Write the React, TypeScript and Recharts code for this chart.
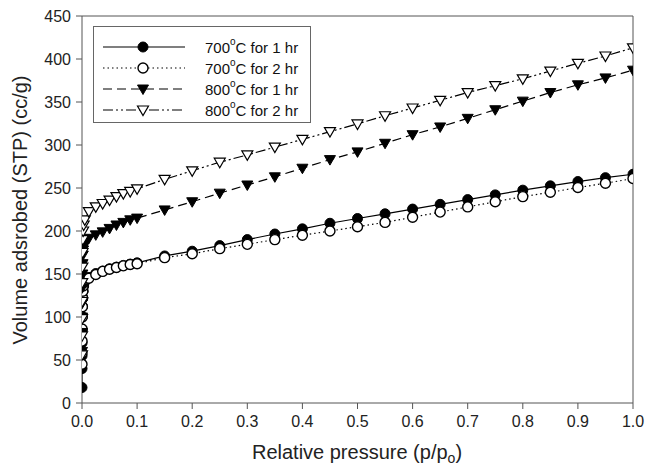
import { LineChart, Line, XAxis, YAxis, ReferenceLine, Label } from 'recharts';

// relative pressure p/p0 : micropore column, knee, linear part
const columnP = [0.00001, 0.00003, 0.0001, 0.0002, 0.0004, 0.0007, 0.001, 0.0015, 0.002, 0.003, 0.005];
const kneeP = [0.0125, 0.025, 0.0375, 0.05, 0.0625, 0.075, 0.0875, 0.1];
const linearP = [0.15, 0.2, 0.25, 0.3, 0.35, 0.4, 0.45, 0.5, 0.55, 0.6, 0.65, 0.7, 0.75, 0.8, 0.85, 0.9, 0.95, 1.0];

// volume adsorbed (cc/g)
const v700_1h = [
  18, 40, 55, 70, 85, 100, 112, 122, 130, 136, 141,
  146, 150.5, 153.5, 156, 158, 160, 161.5, 163,
  171, 176.5, 183, 190, 196.5, 202.5, 209, 214.5, 220, 225.5, 231, 236.5, 242, 247.5, 252.5, 257.5, 262, 266,
];
const v700_2h = [
  45, 58, 72, 86, 100, 112, 122, 130, 136, 140, 143,
  145, 149.5, 153, 155.5, 157.5, 159.5, 161, 162,
  169, 173.5, 179.5, 184.5, 190, 195, 200, 205, 210, 216, 222, 228, 234, 240, 245, 250.5, 255.5, 261,
];
const v800_1h = [
  60, 82, 100, 116, 134, 150, 162, 172, 178, 182, 185,
  191.5, 195.5, 199, 203, 207, 210, 213, 215,
  224.5, 234, 244, 253.5, 263, 273, 283, 292, 302, 312, 321, 331, 341, 351, 361, 370, 378, 387,
];
const v800_2h = [
  56, 78, 98, 118, 140, 158, 175, 190, 200, 207, 213,
  222.5, 228, 232, 236, 240, 243.5, 246, 249,
  260, 270, 280, 288.5, 297.5, 306.5, 315.5, 324.5, 334, 343, 352, 361, 369, 377, 386, 395, 403.5, 413,
];

const xTicks = [0, 0.1, 0.2, 0.3, 0.4, 0.5, 0.6, 0.7, 0.8, 0.9, 1.0];
const yTicks = [0, 50, 100, 150, 200, 250, 300, 350, 400, 450];

const pressure = [...columnP, ...kneeP, ...linearP];
const toRows = (vals: number[]) => pressure.map((p, i) => ({ p, v: vals[i] }));

type MarkerKind = 'filledCircle' | 'openCircle' | 'filledTri' | 'openTri';

const series: { key: string; temp: string; time: string; vals: number[]; marker: MarkerKind; dash?: string }[] = [
  { key: 'a', temp: '700', time: '1', vals: v700_1h, marker: 'filledCircle' },
  { key: 'b', temp: '700', time: '2', vals: v700_2h, marker: 'openCircle', dash: '1.5 3' },
  { key: 'c', temp: '800', time: '1', vals: v800_1h, marker: 'filledTri', dash: '9 5' },
  { key: 'd', temp: '800', time: '2', vals: v800_2h, marker: 'openTri', dash: '10 3 2 3 2 3' },
];

const FONT = 'Arial, "Liberation Sans", sans-serif';
const AXIS = '#555';

function Marker({ kind, cx, cy }: { kind: MarkerKind; cx: number; cy: number }) {
  if (kind === 'filledCircle') return <circle cx={cx} cy={cy} r={5} fill="#000" stroke="#000" strokeWidth={1} />;
  if (kind === 'openCircle') return <circle cx={cx} cy={cy} r={5} fill="#fff" stroke="#000" strokeWidth={1.4} />;
  const pts = `${cx - 5.5},${cy - 4} ${cx + 5.5},${cy - 4} ${cx},${cy + 5.5}`;
  if (kind === 'filledTri') return <polygon points={pts} fill="#000" stroke="#000" strokeWidth={1} />;
  return <polygon points={pts} fill="#fff" stroke="#000" strokeWidth={1.2} />;
}

const renderDot = (kind: MarkerKind) => (props: any) => {
  if (props.cx == null || props.cy == null) return <g key={`${kind}-${props.index}`} />;
  return (
    <g key={`${kind}-${props.index}`}>
      <Marker kind={kind} cx={props.cx} cy={props.cy} />
    </g>
  );
};

function LegendBox() {
  const rowY = [21, 42, 63, 84];
  return (
    <svg width={218} height={97} style={{ display: 'block' }}>
      <rect x={0.5} y={0.5} width={217} height={96} fill="#fff" stroke="#666" strokeWidth={1} />
      {series.map((s, i) => (
        <g key={s.key}>
          <line x1={10} x2={92} y1={rowY[i]} y2={rowY[i]} stroke="#000" strokeWidth={1.2} strokeDasharray={s.dash} />
          <Marker kind={s.marker} cx={50} cy={rowY[i]} />
          <text x={112} y={rowY[i]} dominantBaseline="central" fontSize={15} fontFamily={FONT} fill="#111">
            {s.temp}
            <tspan fontSize={10} dy={-6}>o</tspan>
            <tspan dy={6}>C for {s.time} hr</tspan>
          </text>
        </g>
      ))}
    </svg>
  );
}

export default function App() {
  return (
    <div style={{ position: 'absolute', left: 0, top: 0, width: 647, height: 467, background: '#fff' }}>
      <LineChart width={647} height={467} margin={{ top: 16, right: 14, bottom: 0, left: 0 }}>
        <XAxis
          type="number"
          dataKey="p"
          domain={[0, 1]}
          ticks={xTicks}
          tickFormatter={(v: number) => v.toFixed(1)}
          allowDataOverflow
          height={64}
          tickSize={6}
          tickMargin={7}
          stroke={AXIS}
          tick={{ fill: '#222', fontSize: 16, fontFamily: FONT }}
        >
          <Label
            content={() => (
              <text x={357} y={459} textAnchor="middle" fontSize={20} fontFamily={FONT} fill="#222">
                Relative pressure (p/p
                <tspan fontSize={14} dy={4}>o</tspan>
                <tspan dy={-4}>)</tspan>
              </text>
            )}
          />
        </XAxis>
        <YAxis
          type="number"
          domain={[0, 450]}
          ticks={yTicks}
          width={82}
          tickSize={6}
          tickMargin={5}
          stroke={AXIS}
          tick={{ fill: '#222', fontSize: 16, fontFamily: FONT }}
        >
          <Label
            content={() => (
              <text
                x={20}
                y={210}
                transform="rotate(-90 20 210)"
                textAnchor="middle"
                dominantBaseline="central"
                fontSize={20}
                fontFamily={FONT}
                fill="#222"
              >
                Volume adsrobed (STP) (cc/g)
              </text>
            )}
          />
        </YAxis>
        <ReferenceLine y={450} stroke={AXIS} />
        <ReferenceLine x={1} stroke={AXIS} />
        {series.map((s) => (
          <Line
            key={s.key}
            data={toRows(s.vals)}
            dataKey="v"
            type="linear"
            stroke="#000"
            strokeWidth={1.2}
            strokeDasharray={s.dash}
            dot={renderDot(s.marker)}
            activeDot={false}
            isAnimationActive={false}
          />
        ))}
      </LineChart>
      <div style={{ position: 'absolute', left: 93, top: 26 }}>
        <LegendBox />
      </div>
    </div>
  );
}
